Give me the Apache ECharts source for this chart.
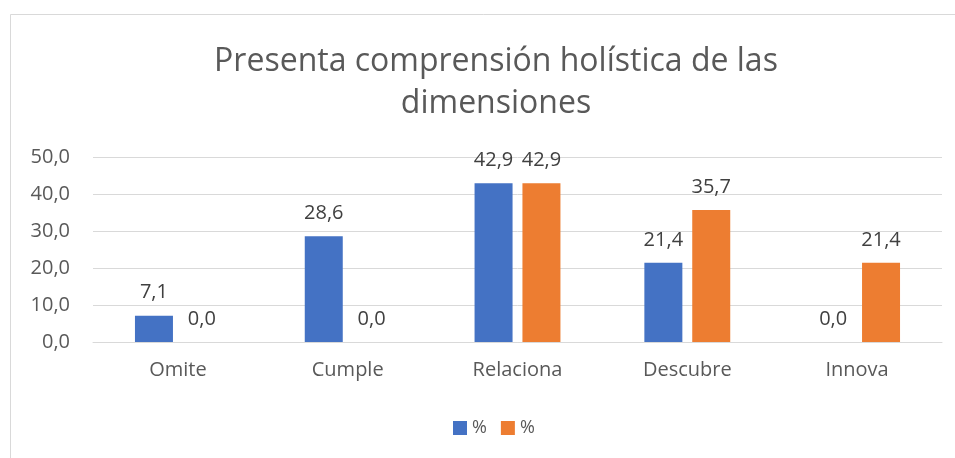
<!DOCTYPE html>
<html>
<head>
<meta charset="utf-8">
<script src="https://cdn.jsdelivr.net/npm/echarts@6/dist/echarts.min.js"></script>
<style>
  html, body { margin: 0; padding: 0; background: #fff; }
  #main { width: 955px; height: 458px; }
</style>
</head>
<body>
<div id="main"></div>
<script>
// chart data
const categories = ["Omite", "Cumple", "Relaciona", "Descubre", "Innova"];
const serieA = [7.1, 28.6, 42.9, 21.4, 0.0];
const serieB = [0.0, 0.0, 42.9, 35.7, 21.4];
const legendLabels = ["%", "%"];
const colorList = ["#4472C4", "#ED7D31"];

const fmt = v => v.toFixed(1).replace(".", ",");

let myChart = echarts.init(document.getElementById("main"));

const labelStyle = {
    show: true,
    position: "top",
    distance: 13,
    color: "#404040",
    fontSize: 20,
    fontFamily: "Open Sans",
    formatter: p => fmt(p.value)
};

const option = {
    backgroundColor: "#fff",
    animation: false,
    color: colorList,
    graphic: [{
        type: "rect",
        shape: { x: 10.5, y: 14.5, width: 980, height: 480 },
        style: { fill: "none", stroke: "#D9D9D9", lineWidth: 1 },
        silent: true
    }],
    title: {
        text: "Presenta comprensión holística de las\ndimensiones",
        left: 491,
        top: 36,
        textAlign: "center",
        textStyle: {
            color: "#595959",
            fontSize: 32,
            fontWeight: "normal",
            fontFamily: "Open Sans",
            lineHeight: 42
        }
    },
    legend: {
        top: 414,
        left: 448,
        itemWidth: 14,
        itemHeight: 14,
        itemGap: 14,
        icon: "rect",
        textStyle: { color: "#595959", fontSize: 18, fontFamily: "Open Sans" },
        data: [{ name: "a", icon: "rect" }, { name: "b", icon: "rect" }],
        formatter: name => legendLabels[name === "a" ? 0 : 1]
    },
    grid: {
        left: 93,
        right: 13,
        top: 157,
        bottom: 116,
        containLabel: false
    },
    xAxis: [{
        type: "category",
        data: categories,
        axisTick: { show: false },
        axisLine: { lineStyle: { color: "#D9D9D9" } },
        axisLabel: { color: "#595959", fontSize: 20, fontFamily: "Open Sans", margin: 18 }
    }],
    yAxis: [{
        type: "value",
        min: 0,
        max: 50,
        interval: 10,
        axisLabel: {
            color: "#595959",
            fontSize: 20,
            fontFamily: "Open Sans",
            margin: 23,
            formatter: v => fmt(v)
        },
        splitLine: { lineStyle: { color: "#D9D9D9" } },
        axisLine: { show: false },
        axisTick: { show: false }
    }],
    series: [{
        name: "a",
        type: "bar",
        barWidth: 38,
        barGap: "26%",
        itemStyle: { color: colorList[0] },
        label: labelStyle,
        data: serieA
    }, {
        name: "b",
        type: "bar",
        barWidth: 38,
        itemStyle: { color: colorList[1] },
        label: labelStyle,
        data: serieB
    }]
};
myChart.setOption(option, true);
</script>
</body>
</html>
